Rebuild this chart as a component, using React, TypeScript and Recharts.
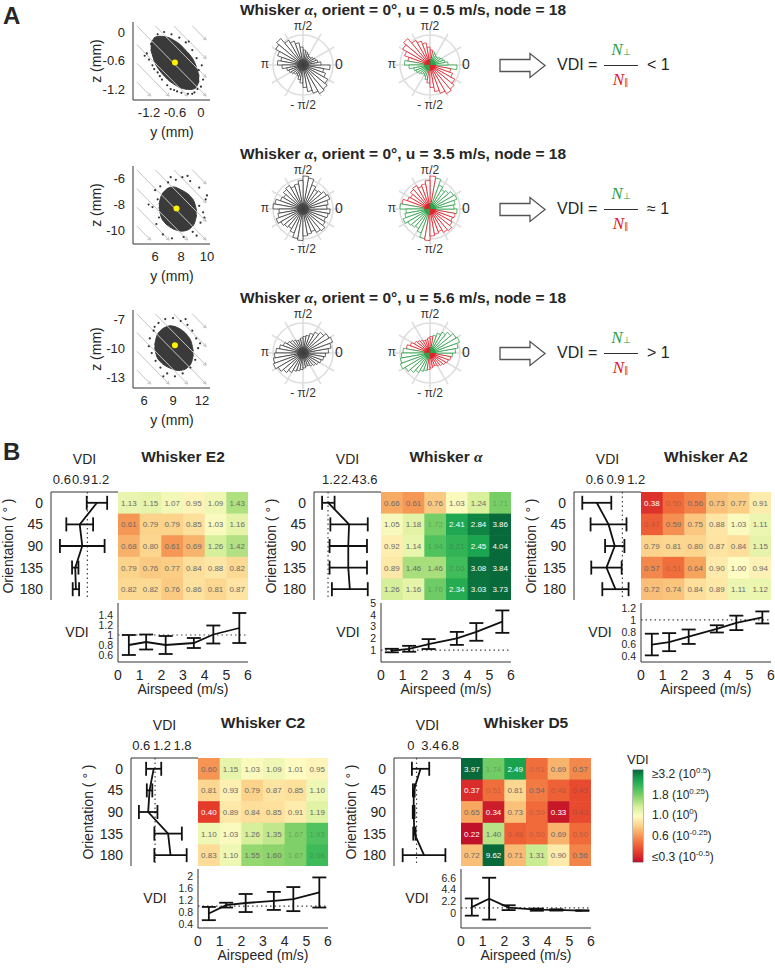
import React from 'react';
import {
  ComposedChart, LineChart, ScatterChart, RadialBarChart,
  Line, Area, Scatter, RadialBar, Cell,
  XAxis, YAxis, ErrorBar, ReferenceLine,
  PolarGrid, PolarAngleAxis, PolarRadiusAxis,
} from 'recharts';

const FONT = '"Liberation Sans", Arial, Helvetica, sans-serif';
const SERIF = '"Liberation Serif", "DejaVu Serif", serif';
const INK = '#262626';

// ================= Panel A data =================
const SPEEDS_A = ['0.5', '3.5', '5.6'];
const RELATIONS_A = ['< 1', '\u2248 1', '> 1'];

// rose histograms, 36 bins of 10 deg starting at 0 (counter-clockwise), relative radius
const ROSE_LOW = [0.9, 0.6, 0.5, 0.45, 0.4, 0.35, 0.35, 0.4, 0.45, 0.5, 0.6, 0.75, 0.85, 0.95, 1.15, 1.05, 0.9, 0.75,
  0.85, 0.7, 0.55, 0.5, 0.45, 0.4, 0.35, 0.4, 0.5, 0.6, 0.75, 0.9, 1.0, 1.1, 1.05, 0.95, 0.8, 0.7];
const ROSE_MID = [0.9, 0.8, 0.85, 0.95, 0.9, 0.8, 0.75, 0.85, 1.05, 1.1, 0.95, 0.85, 0.8, 0.9, 0.85, 0.75, 0.8, 0.95,
  1.0, 0.8, 0.85, 0.95, 0.85, 0.8, 0.75, 0.85, 1.0, 1.05, 0.9, 0.85, 0.8, 0.9, 0.95, 0.85, 0.8, 0.85];
const ROSE_HIGH = [0.75, 0.85, 0.95, 1.05, 1.0, 0.9, 0.8, 0.7, 0.6, 0.55, 0.5, 0.45, 0.45, 0.5, 0.55, 0.6, 0.7, 0.8,
  0.9, 0.95, 1.0, 1.05, 0.95, 0.85, 0.75, 0.65, 0.6, 0.55, 0.5, 0.45, 0.45, 0.5, 0.55, 0.6, 0.65, 0.7];

// whisker-tip displacement clouds: dense core outline (range area) and fringe points
const CLOUD_LOW = [
  { y: -1.16, band: [-0.37, -0.27] }, { y: -1.06, band: [-0.65, -0.11] }, { y: -0.945, band: [-0.82, -0.09] },
  { y: -0.83, band: [-0.94, -0.1] }, { y: -0.715, band: [-1.04, -0.13] }, { y: -0.6, band: [-1.11, -0.19] },
  { y: -0.485, band: [-1.17, -0.26] }, { y: -0.37, band: [-1.2, -0.37] }, { y: -0.255, band: [-1.21, -0.48] },
  { y: -0.14, band: [-1.19, -0.65] }, { y: -0.04, band: [-1.03, -0.93] },
];
const DOTS_LOW = [
  { y: -1.25, z: -0.45 }, { y: -1.2, z: -0.58 }, { y: -1.12, z: -0.7 }, { y: -1.0, z: -0.85 }, { y: -0.9, z: -1.0 },
  { y: -0.78, z: -1.12 }, { y: -0.62, z: -1.22 }, { y: -0.45, z: -1.28 }, { y: -0.3, z: -1.3 }, { y: -0.15, z: -1.27 },
  { y: 0.0, z: -1.15 }, { y: 0.05, z: -1.0 }, { y: -0.05, z: -0.8 }, { y: -0.1, z: -0.55 }, { y: -0.2, z: -0.38 },
  { y: -0.35, z: -0.22 }, { y: -0.5, z: -0.12 }, { y: -0.68, z: -0.05 }, { y: -0.85, z: 0.0 }, { y: -1.0, z: -0.05 },
  { y: -1.15, z: -0.25 }, { y: -1.3, z: -0.5 }, { y: -0.7, z: -1.2 }, { y: -0.2, z: -1.3 }, { y: 0.02, z: -0.7 },
  { y: -1.08, z: -0.78 }, { y: -0.95, z: -0.93 }, { y: -0.55, z: -1.25 }, { y: -0.08, z: -1.2 }, { y: -0.28, z: -0.2 },
];
const CENTER_LOW = [{ y: -0.6, z: -0.64 }];

const CLOUD_MID = [
  { y: 6.3, band: [-8.2, -8.0] }, { y: 6.45, band: [-8.9, -7.4] }, { y: 6.75, band: [-9.4, -6.95] },
  { y: 7.1, band: [-9.7, -6.7] }, { y: 7.45, band: [-9.9, -6.65] }, { y: 7.75, band: [-10.0, -6.75] },
  { y: 8.05, band: [-10.05, -6.9] }, { y: 8.4, band: [-10.0, -7.1] }, { y: 8.75, band: [-9.8, -7.4] },
  { y: 9.05, band: [-9.4, -7.9] }, { y: 9.2, band: [-8.8, -8.5] },
];
const DOTS_MID = [
  { y: 6.0, z: -6.9 }, { y: 5.8, z: -8.2 }, { y: 6.1, z: -9.5 }, { y: 6.6, z: -10.3 }, { y: 7.3, z: -10.6 },
  { y: 8.2, z: -10.5 }, { y: 8.9, z: -10.1 }, { y: 9.5, z: -9.4 }, { y: 9.7, z: -8.6 }, { y: 9.9, z: -7.6 },
  { y: 10.0, z: -7.3 }, { y: 9.4, z: -6.7 }, { y: 8.7, z: -6.2 }, { y: 8.1, z: -5.9 }, { y: 7.6, z: -6.1 },
  { y: 7.0, z: -6.3 }, { y: 6.4, z: -6.6 }, { y: 5.5, z: -8.0 }, { y: 9.2, z: -10.4 }, { y: 6.2, z: -7.6 },
  { y: 9.8, z: -9.0 }, { y: 8.5, z: -5.8 }, { y: 7.2, z: -5.9 }, { y: 6.3, z: -9.0 }, { y: 9.4, z: -8.1 },
];
const CENTER_MID = [{ y: 7.65, z: -8.3 }];

const CLOUD_HIGH = [
  { y: 7.1, band: [-9.9, -9.7] }, { y: 7.3, band: [-10.8, -8.8] }, { y: 7.7, band: [-11.4, -8.2] },
  { y: 8.2, band: [-11.8, -7.85] }, { y: 8.7, band: [-12.05, -7.7] }, { y: 9.1, band: [-12.2, -7.75] },
  { y: 9.5, band: [-12.3, -7.9] }, { y: 10.0, band: [-12.25, -8.2] }, { y: 10.5, band: [-12.0, -8.7] },
  { y: 10.9, band: [-11.5, -9.4] }, { y: 11.1, band: [-10.7, -10.3] },
];
const DOTS_HIGH = [
  { y: 6.6, z: -9.0 }, { y: 6.8, z: -10.5 }, { y: 7.0, z: -8.2 }, { y: 7.5, z: -7.4 }, { y: 8.2, z: -7.0 },
  { y: 9.0, z: -6.9 }, { y: 9.8, z: -7.2 }, { y: 10.5, z: -7.6 }, { y: 11.0, z: -8.2 }, { y: 11.4, z: -9.0 },
  { y: 11.6, z: -10.0 }, { y: 11.3, z: -11.2 }, { y: 10.8, z: -12.0 }, { y: 10.0, z: -12.6 }, { y: 9.2, z: -12.9 },
  { y: 8.4, z: -12.6 }, { y: 7.7, z: -12.0 }, { y: 7.2, z: -11.3 }, { y: 11.8, z: -9.5 }, { y: 6.5, z: -9.8 },
  { y: 10.3, z: -7.0 }, { y: 8.0, z: -12.9 }, { y: 11.0, z: -10.6 }, { y: 7.1, z: -7.8 },
];
const CENTER_HIGH = [{ y: 9.2, z: -9.7 }];

const Y_TICKS_A = [[-1.2, -0.6, 0], [6, 8, 10], [6, 9, 12]];
const Z_TICKS_A = [[0, -0.6, -1.2], [-6, -8, -10], [-7, -10, -13]];
const Y_DOMAIN_A: [number, number][] = [[-1.57, 0.21], [4.3, 10.23], [4.86, 12.83]];
const Z_DOMAIN_A: [number, number][] = [[-1.43, 0.21], [-11.04, -5.04], [-14.1, -6.07]];
const FLOW_OFFSETS = [-0.72, -0.48, -0.24, 0, 0.24, 0.48, 0.72];

// ================= Panel B data =================
const ORIENTATIONS = [0, 45, 90, 135, 180];
const SPEED_BINS = [0.5, 1.5, 2.5, 3.5, 4.5, 5.5];
const AIRSPEEDS = [0.5, 1.3, 2.2, 3.5, 4.4, 5.6];
const AIRSPEED_TICKS = [0, 1, 2, 3, 4, 5, 6];

const E2_VDI = [
  [1.13, 1.15, 1.07, 0.95, 1.09, 1.43],
  [0.61, 0.79, 0.79, 0.85, 1.03, 1.16],
  [0.68, 0.80, 0.61, 0.69, 1.26, 1.42],
  [0.79, 0.76, 0.77, 0.84, 0.88, 0.82],
  [0.82, 0.82, 0.76, 0.86, 0.81, 0.87],
];
const E2_ORIENT_MEAN = [1.15, 0.88, 0.92, 0.81, 0.82];
const E2_ORIENT_ERR = [0.16, 0.21, 0.35, 0.05, 0.05];
const E2_SPEED_MEAN = [0.8, 0.86, 0.8, 0.84, 1.01, 1.14];
const E2_SPEED_ERR = [0.2, 0.15, 0.18, 0.1, 0.18, 0.3];

const ALPHA_VDI = [
  [0.66, 0.61, 0.76, 1.03, 1.24, 1.71],
  [1.05, 1.18, 1.72, 2.41, 2.84, 3.86],
  [0.92, 1.14, 1.94, 2.21, 2.45, 4.04],
  [0.89, 1.46, 1.46, 2.06, 3.08, 3.84],
  [1.26, 1.16, 1.76, 2.34, 3.03, 3.73],
];
const ALPHA_ORIENT_MEAN = [1.02, 2.35, 2.3, 2.3, 2.4];
const ALPHA_ORIENT_ERR = [0.4, 1.2, 1.2, 1.2, 1.15];
const ALPHA_SPEED_MEAN = [0.97, 1.12, 1.52, 2.0, 2.55, 3.42];
const ALPHA_SPEED_ERR = [0.15, 0.25, 0.42, 0.55, 0.75, 0.95];

const A2_VDI = [
  [0.38, 0.50, 0.56, 0.73, 0.77, 0.91],
  [0.47, 0.59, 0.75, 0.88, 1.03, 1.11],
  [0.79, 0.81, 0.80, 0.87, 0.84, 1.15],
  [0.57, 0.51, 0.64, 0.90, 1.00, 0.94],
  [0.72, 0.74, 0.84, 0.89, 1.11, 1.12],
];
const A2_ORIENT_MEAN = [0.63, 0.8, 0.89, 0.77, 0.9];
const A2_ORIENT_ERR = [0.21, 0.26, 0.14, 0.22, 0.19];
const A2_SPEED_MEAN = [0.59, 0.63, 0.72, 0.85, 0.95, 1.04];
const A2_SPEED_ERR = [0.18, 0.15, 0.12, 0.06, 0.12, 0.1];

const C2_VDI = [
  [0.60, 1.15, 1.03, 1.09, 1.01, 0.95],
  [0.81, 0.93, 0.79, 0.87, 0.85, 1.10],
  [0.40, 0.89, 0.84, 0.85, 0.91, 1.19],
  [1.10, 1.03, 1.26, 1.35, 1.67, 1.93],
  [0.83, 1.10, 1.55, 1.60, 1.67, 2.08],
];
const C2_ORIENT_MEAN = [0.96, 0.84, 0.8, 1.38, 1.45];
const C2_ORIENT_ERR = [0.22, 0.08, 0.27, 0.4, 0.47];
const C2_SPEED_MEAN = [0.75, 1.03, 1.1, 1.17, 1.23, 1.45];
const C2_SPEED_ERR = [0.22, 0.08, 0.3, 0.3, 0.4, 0.5];

const D5_VDI = [
  [3.97, 1.74, 2.49, 0.51, 0.69, 0.57],
  [0.37, 0.51, 0.81, 0.54, 0.48, 0.43],
  [0.65, 0.34, 0.73, 0.50, 0.33, 0.43],
  [0.22, 1.40, 0.48, 0.50, 0.69, 0.50],
  [0.72, 9.62, 0.71, 1.31, 0.90, 0.56],
];
const D5_ORIENT_MEAN = [1.7, 0.52, 0.5, 0.63, 2.3];
const D5_ORIENT_ERR = [1.5, 0.15, 0.15, 0.2, 3.7];
const D5_SPEED_MEAN = [1.15, 2.72, 1.04, 0.67, 0.62, 0.5];
const D5_SPEED_ERR = [1.6, 3.9, 0.45, 0.2, 0.12, 0.05];

const COLORBAR_LABELS = [
  { pre: '\u22653.2 (10', exp: '0.5', post: ')' },
  { pre: '1.8 (10', exp: '0.25', post: ')' },
  { pre: '1.0 (10', exp: '0', post: ')' },
  { pre: '0.6 (10', exp: '-0.25', post: ')' },
  { pre: '\u22640.3 (10', exp: '-0.5', post: ')' },
];

// ================= colour map =================
const STOPS: [number, string][] = [
  [0.0, '#c0102a'], [0.1, '#e43a2b'], [0.2, '#f06a3a'], [0.3, '#f6a05a'], [0.4, '#fcd48c'],
  [0.5, '#fffcc4'], [0.6, '#d6ef9a'], [0.7, '#8fd56c'], [0.8, '#47c05c'], [0.9, '#17a24e'], [1.0, '#08693a'],
];
const hex = (h: string) => [1, 3, 5].map((i) => parseInt(h.slice(i, i + 2), 16));
const tOf = (v: number) => Math.max(0, Math.min(1, Math.log10(v) + 0.5));
function vdiColor(v: number) {
  const t = tOf(v);
  for (let i = 0; i < STOPS.length - 1; i++) {
    const [t0, c0] = STOPS[i];
    const [t1, c1] = STOPS[i + 1];
    if (t <= t1) {
      const f = (t - t0) / (t1 - t0);
      const a = hex(c0), b = hex(c1);
      const c = a.map((x, k) => Math.round(x + (b[k] - x) * f));
      return `rgb(${c[0]},${c[1]},${c[2]})`;
    }
  }
  return STOPS[STOPS.length - 1][1];
}
function textColor(v: number) {
  const t = tOf(v);
  if (t < 0.12 || t > 0.86) return '#ffffff';
  if (t < 0.22 || t > 0.72) return 'rgba(70,70,70,0.35)';
  return '#6a6a6a';
}

// ================= helpers =================
function T({ x, y, children, size = 14, bold = false, rotate = 0, anchor = 'center', color = INK, family = FONT, italic = false }: any) {
  const tx = anchor === 'center' ? '-50%' : anchor === 'left' ? '0%' : '-100%';
  return (
    <div style={{
      position: 'absolute', left: x, top: y, transform: `translate(${tx},-50%) rotate(${rotate}deg)`,
      fontSize: size, fontWeight: bold ? 'bold' : 'normal', fontStyle: italic ? 'italic' : 'normal',
      color, fontFamily: family, whiteSpace: 'nowrap', lineHeight: 1.1,
    }}>{children}</div>
  );
}

const tickStyle = (size = 13) => ({ fontSize: size, fill: INK, fontFamily: FONT });

// ---------- Panel A pieces ----------
const SC_X = 133, SC_W = 77, SC_H = 78;

function flowSegments(yd: [number, number], zd: [number, number]) {
  const [y0, y1] = yd, [z0, z1] = zd;
  const toData = (u: number, v: number) => ({ x: y0 + u * (y1 - y0), y: z1 - v * (z1 - z0) });
  return FLOW_OFFSETS.map((f) => {
    const s = f >= 0 ? [f, 0] : [0, -f];
    const e = f >= 0 ? [1, 1 - f] : [1 + f, 1];
    const k = 0.05;
    return [toData(s[0] + k, s[1] + k), toData(e[0] - k, e[1] - k)];
  });
}

const ArrowLine = (p: any) => {
  const { x1, y1, x2, y2 } = p;
  if (x1 == null) return null;
  const a = Math.atan2(y2 - y1, x2 - x1);
  const h = 3.5;
  const l1 = { x: x2 - h * Math.cos(a - 0.5), y: y2 - h * Math.sin(a - 0.5) };
  const l2 = { x: x2 - h * Math.cos(a + 0.5), y: y2 - h * Math.sin(a + 0.5) };
  return (
    <g stroke="#c4c4c4" strokeWidth={1} fill="none">
      <line x1={x1} y1={y1} x2={x2} y2={y2} />
      <polyline points={`${l1.x},${l1.y} ${x2},${y2} ${l2.x},${l2.y}`} />
    </g>
  );
};

function Cloud({ row, outline, dots, center }: any) {
  const top = 22 + 144 * row;
  const YW = 40, XH = 22;
  const yd = Y_DOMAIN_A[row], zd = Z_DOMAIN_A[row];
  const segs = flowSegments(yd, zd);
  return (
    <div style={{ position: 'absolute', left: SC_X - YW, top: top - 6 }}>
      <ComposedChart width={YW + SC_W + 8} height={SC_H + XH + 6} data={outline}
        margin={{ top: 6, right: 8, bottom: 0, left: 0 }}>
        <XAxis type="number" dataKey="y" domain={yd} ticks={Y_TICKS_A[row]} allowDataOverflow interval={0}
          height={XH} tick={tickStyle(13)} tickLine={false} stroke="#333" />
        <YAxis type="number" dataKey="z" domain={zd} ticks={Z_TICKS_A[row]} allowDataOverflow interval={0}
          width={YW} tick={tickStyle(13)} tickLine={false} stroke="#333" />
        {segs.map((s, i) => (
          <ReferenceLine key={i} segment={s} ifOverflow="visible" shape={ArrowLine} />
        ))}
        <Area dataKey="band" type="monotone" stroke="#3a3a3a" strokeWidth={1} fill="#3a3a3a" fillOpacity={1}
          isAnimationActive={false} dot={false} activeDot={false} />
        <Scatter data={dots} isAnimationActive={false}
          shape={(p: any) => <circle cx={p.cx} cy={p.cy} r={1.1} fill="#333" />} />
        <Scatter data={center} isAnimationActive={false}
          shape={(p: any) => <circle cx={p.cx} cy={p.cy} r={3} fill="#fff200" />} />
      </ComposedChart>
    </div>
  );
}

const GREEN = '#2ca048';
const RED = '#e0202a';
const RS = 90;

function Rose({ values, colored, cx, cy }: any) {
  const data = values.map((v: number, i: number) => ({ bin: i, v }));
  const isPerp = (i: number) => (i < 9) || (i >= 18 && i < 27);
  return (
    <>
      <div style={{ position: 'absolute', left: cx - RS / 2, top: cy - RS / 2 }}>
        <RadialBarChart width={RS} height={RS} cx={RS / 2} cy={RS / 2} innerRadius={0} outerRadius={36}
          data={data} layout="centric" startAngle={0} endAngle={360} barCategoryGap={0} barGap={0}
          margin={{ top: 0, right: 0, bottom: 0, left: 0 }}>
          <PolarGrid gridType="circle" polarRadius={[30]} outerRadius={30}
            polarAngles={[0, 30, 60, 90, 120, 150, 180, 210, 240, 270, 300, 330]}
            stroke="#dedede" strokeWidth={1.6} />
          <PolarAngleAxis type="category" dataKey="bin" tick={false} axisLine={false} tickLine={false} />
          <PolarRadiusAxis type="number" domain={[0, 1.2]} tick={false} axisLine={false} tickLine={false} />
          <RadialBar dataKey="v" isAnimationActive={false} fill="#fff" stroke="#444" strokeWidth={0.8}>
            {data.map((d: any, i: number) => (
              <Cell key={i} fill="#ffffff" stroke={colored ? (isPerp(i) ? GREEN : RED) : '#3c3c3c'} />
            ))}
          </RadialBar>
        </RadialBarChart>
      </div>
      <div style={{
        position: 'absolute', left: cx - 6, top: cy - 6, width: 12, height: 12, borderRadius: 6,
        background: colored
          ? `conic-gradient(${GREEN} 0deg 90deg, ${RED} 90deg 180deg, ${GREEN} 180deg 270deg, ${RED} 270deg 360deg)`
          : 'radial-gradient(circle, #3a3a3a 0%, #4a4a4a 55%, rgba(80,80,80,0.4) 100%)',
        opacity: colored ? 0.85 : 1,
      }} />
      <T x={cx} y={cy - 38} size={12} color="#333">{'\u03c0/2'}</T>
      <T x={cx} y={cy + 41} size={12} color="#333">{'- \u03c0/2'}</T>
      <T x={cx - 38} y={cy} size={12} color="#333">{'\u03c0'}</T>
      <T x={cx + 36} y={cy} size={14} color="#333">0</T>
    </>
  );
}

function RowA({ row }: { row: number }) {
  const cy = 65 + 144 * row;
  const outline = [CLOUD_LOW, CLOUD_MID, CLOUD_HIGH][row];
  const dots = [DOTS_LOW, DOTS_MID, DOTS_HIGH][row];
  const center = [CENTER_LOW, CENTER_MID, CENTER_HIGH][row];
  const rose = [ROSE_LOW, ROSE_MID, ROSE_HIGH][row];
  const top = 22 + 144 * row;
  return (
    <>
      <T x={403} y={10 + 144 * row} size={15.5} bold>
        Whisker <span style={{ fontFamily: SERIF, fontStyle: 'italic' }}>{'\u03b1'}</span>, orient = 0°, u = {SPEEDS_A[row]} m/s, node = 18
      </T>
      <Cloud row={row} outline={outline} dots={dots} center={center} />
      <T x={97} y={top + 39} size={14} rotate={-90}>z (mm)</T>
      <T x={172} y={top + SC_H + 33} size={14}>y (mm)</T>
      <Rose values={rose} colored={false} cx={303} cy={cy} />
      <Rose values={rose} colored={true} cx={430} cy={cy} />
      <svg style={{ position: 'absolute', left: 498, top: cy - 13 }} width={50} height={27}>
        <polygon points="2,7.5 32,7.5 32,1.5 47,13.5 32,25.5 32,19.5 2,19.5" fill="#fff" stroke="#555" strokeWidth={1.3} />
      </svg>
      <T x={557} y={cy} size={16} anchor="left">VDI =</T>
      <div style={{ position: 'absolute', left: 604, top: cy - 0.5, width: 34, height: 1.3, background: '#333' }} />
      <T x={621} y={cy - 15} size={17} color={GREEN} family={SERIF} italic>
        N<span style={{ fontSize: 9, fontStyle: 'normal', fontFamily: FONT }}>{'\u22a5'}</span>
      </T>
      <T x={621} y={cy + 15} size={17} color={RED} family={SERIF} italic>
        N<span style={{ fontSize: 9, fontStyle: 'normal', fontFamily: FONT }}>{'\u2225'}</span>
      </T>
      <T x={647} y={cy} size={16} anchor="left">{RELATIONS_A[row]}</T>
    </>
  );
}

// ---------- Panel B pieces ----------
const HM_W = 130, HM_H = 108, LEFT_W = 67, BOT_H = 59, BOT_GAP = 3;

function Heatmap({ grid, x, y }: any) {
  const data: any[] = [];
  grid.forEach((row: number[], r: number) => row.forEach((v, c) => data.push({ col: SPEED_BINS[c], row: r + 0.5, v })));
  const cw = HM_W / 6, ch = HM_H / 5;
  return (
    <div style={{ position: 'absolute', left: x, top: y }}>
      <ScatterChart width={HM_W} height={HM_H} margin={{ top: 0, right: 0, bottom: 0, left: 0 }}>
        <XAxis type="number" dataKey="col" domain={[0, 6]} hide />
        <YAxis type="number" dataKey="row" domain={[0, 5]} reversed hide />
        <Scatter data={data} isAnimationActive={false}
          shape={(p: any) => (
            <g>
              <rect x={p.cx - cw / 2} y={p.cy - ch / 2} width={cw + 0.6} height={ch + 0.6} fill={vdiColor(p.payload.v)} />
              <text x={p.cx} y={p.cy + 3} textAnchor="middle" fontSize={8} fontFamily={FONT}
                fill={textColor(p.payload.v)}>{p.payload.v.toFixed(2)}</text>
            </g>
          )} />
      </ScatterChart>
    </div>
  );
}

function OrientPlot({ mean, err, domain, ticks, x, y }: any) {
  const data = ORIENTATIONS.map((o, i) => ({ idx: i, m: mean[i], e: err[i] }));
  const YW = 48, XH = 22, R = 12;
  return (
    <div style={{ position: 'absolute', left: x - YW, top: y - XH }}>
      <LineChart layout="vertical" width={YW + LEFT_W + R} height={XH + HM_H + 1} data={data}
        margin={{ top: 0, right: R, bottom: 1, left: 0 }}>
        <XAxis type="number" orientation="top" domain={domain} ticks={ticks} allowDataOverflow interval={0}
          height={XH} tick={tickStyle(13)} tickLine={false} stroke="#333" />
        <YAxis type="number" dataKey="idx" domain={[-0.5, 4.5]} ticks={[0, 1, 2, 3, 4]} interval={0}
          tickFormatter={(i: number) => String(ORIENTATIONS[i])} width={YW} tick={tickStyle(14)}
          tickLine={false} stroke="#333" allowDataOverflow />
        <ReferenceLine x={1} stroke="#444" strokeDasharray="1.5 3" strokeWidth={1.2} />
        <Line dataKey="m" stroke="#111" strokeWidth={1.8} dot={false} activeDot={false} isAnimationActive={false}>
          <ErrorBar dataKey="e" direction="x" width={7} stroke="#111" strokeWidth={1.8} />
        </Line>
      </LineChart>
    </div>
  );
}

function SpeedPlot({ mean, err, domain, ticks, x, y }: any) {
  const data = AIRSPEEDS.map((s, i) => ({ s, m: mean[i], e: err[i] }));
  const YW = 30, XH = 22, TOP = 7;
  return (
    <div style={{ position: 'absolute', left: x - YW, top: y - TOP }}>
      <LineChart width={YW + HM_W + 8} height={BOT_H + XH + TOP} data={data}
        margin={{ top: TOP, right: 8, bottom: 0, left: 0 }}>
        <XAxis type="number" dataKey="s" domain={[0, 6]} ticks={AIRSPEED_TICKS} interval={0}
          height={XH} tick={tickStyle(14)} tickLine={false} stroke="#333" />
        <YAxis type="number" domain={domain} ticks={ticks} allowDataOverflow interval={0}
          width={YW} tick={tickStyle(10.5)} tickLine={false} tickSize={3} stroke="#333" />
        <ReferenceLine y={1} stroke="#444" strokeDasharray="1.5 3" strokeWidth={1.2} />
        <Line dataKey="m" stroke="#111" strokeWidth={1.8} dot={false} activeDot={false} isAnimationActive={false}>
          <ErrorBar dataKey="e" direction="y" width={7} stroke="#111" strokeWidth={1.8} />
        </Line>
      </LineChart>
    </div>
  );
}

const PANELS_B = [
  { title: 'E2', grid: E2_VDI, om: E2_ORIENT_MEAN, oe: E2_ORIENT_ERR, sm: E2_SPEED_MEAN, se: E2_SPEED_ERR,
    od: [0.43, 1.48], ot: [0.6, 0.9, 1.2], sd: [0.46, 1.64], st: [0.6, 0.8, 1, 1.2, 1.4], hx: 118, hy: 492, vdx: 41 },
  { title: 'alpha', grid: ALPHA_VDI, om: ALPHA_ORIENT_MEAN, oe: ALPHA_ORIENT_ERR, sm: ALPHA_SPEED_MEAN, se: ALPHA_SPEED_ERR,
    od: [0.1, 4.4], ot: [1.2, 2.4, 3.6], sd: [0, 5], st: [1, 2, 3, 4, 5], hx: 381, hy: 492, vdx: 33 },
  { title: 'A2', grid: A2_VDI, om: A2_ORIENT_MEAN, oe: A2_ORIENT_ERR, sm: A2_SPEED_MEAN, se: A2_SPEED_ERR,
    od: [0.3, 1.27], ot: [0.6, 0.9, 1.2], sd: [0.3, 1.28], st: [0.4, 0.6, 0.8, 1, 1.2], hx: 641, hy: 492, vdx: 41 },
  { title: 'C2', grid: C2_VDI, om: C2_ORIENT_MEAN, oe: C2_ORIENT_ERR, sm: C2_SPEED_MEAN, se: C2_SPEED_ERR,
    od: [0.3, 2.25], ot: [0.6, 1.2, 1.8], sd: [0.27, 2.23], st: [0.4, 0.8, 1.2, 1.6, 2], hx: 198, hy: 758, vdx: 43 },
  { title: 'D5', grid: D5_VDI, om: D5_ORIENT_MEAN, oe: D5_ORIENT_ERR, sm: D5_SPEED_MEAN, se: D5_SPEED_ERR,
    od: [-2.9, 8.7], ot: [0, 3.4, 6.8], sd: [-2.75, 8.25], st: [0, 2.2, 4.4, 6.6], hx: 461, hy: 758, vdx: 44 },
];

function PanelB({ p }: any) {
  const { hx, hy } = p;
  const botTop = hy + HM_H + BOT_GAP;
  return (
    <>
      <T x={hx + 65} y={hy - 35} size={15.5} bold>
        Whisker {p.title === 'alpha'
          ? <span style={{ fontFamily: SERIF, fontStyle: 'italic' }}>{'\u03b1'}</span>
          : p.title}
      </T>
      <T x={hx - LEFT_W / 2} y={hy - 32} size={14}>VDI</T>
      <T x={hx - LEFT_W - 42} y={hy + HM_H / 2} size={14} rotate={-90}>Orientation ( ° )</T>
      <OrientPlot mean={p.om} err={p.oe} domain={p.od} ticks={p.ot} x={hx - LEFT_W} y={hy} />
      <Heatmap grid={p.grid} x={hx} y={hy} />
      <SpeedPlot mean={p.sm} err={p.se} domain={p.sd} ticks={p.st} x={hx} y={botTop} />
      <T x={hx - p.vdx} y={botTop + 30} size={14}>VDI</T>
      <T x={hx + 65} y={botTop + BOT_H + 28} size={14}>Airspeed (m/s)</T>
    </>
  );
}

function ColorBar() {
  const x = 633, y = 770, w = 10, h = 92;
  const grad = STOPS.slice().reverse().map(([t, c]) => `${c} ${((1 - t) * 100).toFixed(0)}%`).join(', ');
  return (
    <>
      <T x={627} y={760} size={13} anchor="left">VDI</T>
      <div style={{ position: 'absolute', left: x, top: y, width: w, height: h, background: `linear-gradient(to bottom, ${grad})`, boxShadow: '0 0 0 0.5px #777' }} />
      {COLORBAR_LABELS.map((l, i) => (
        <T key={i} x={652} y={y + 5 + i * 20.7} size={12} anchor="left">
          {l.pre}<sup style={{ fontSize: 8, verticalAlign: 'super', lineHeight: 0 }}>{l.exp}</sup>{l.post}
        </T>
      ))}
    </>
  );
}

export default function App() {
  return (
    <div style={{ position: 'absolute', left: 0, top: 0, width: 775, height: 970, background: '#fff', overflow: 'hidden', fontFamily: FONT }}>
      <T x={3} y={16} size={24} bold anchor="left">A</T>
      <RowA row={0} />
      <RowA row={1} />
      <RowA row={2} />
      <T x={3} y={452} size={24} bold anchor="left">B</T>
      {PANELS_B.map((p) => <PanelB key={p.title} p={p} />)}
      <ColorBar />
    </div>
  );
}
